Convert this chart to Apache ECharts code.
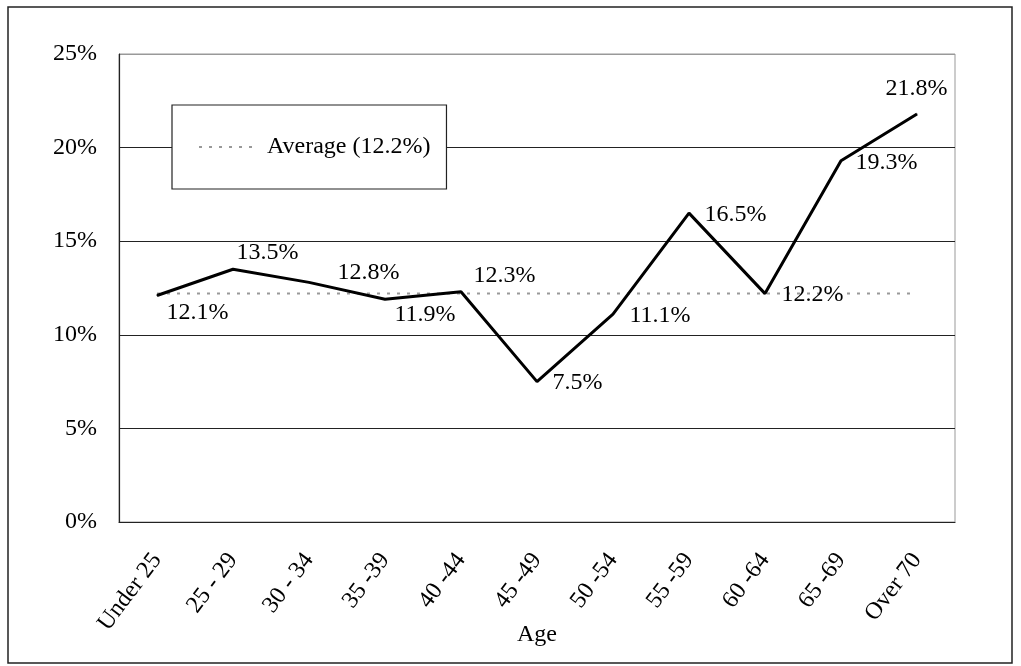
<!DOCTYPE html>
<html>
<head>
<meta charset="utf-8">
<script src="https://cdn.jsdelivr.net/npm/echarts@6/dist/echarts.min.js"></script>
<style>
  html, body { margin: 0; padding: 0; background: #fff; }
  #chart { width: 1021px; height: 666px; }
</style>
</head>
<body>
<div id="chart"></div>
<script>
// Age groups along the horizontal axis
const ageGroups = ['Under 25', '25 - 29', '30 - 34', '35 -39', '40 -44', '45 -49', '50 -54', '55 -59', '60 -64', '65 -69', 'Over 70'];
// Rate for each age group, in percent
const rates = [12.1, 13.5, 12.8, 11.9, 12.3, 7.5, 11.1, 16.5, 12.2, 19.3, 21.8];
// Overall average, in percent
const averageRate = 12.2;
// Y axis ticks, in percent
const yTicks = [0, 5, 10, 15, 20, 25];

const serif = '"Liberation Serif", "Times New Roman", serif';

// Where each value label sits relative to its point: [dx, dy, align]
const labelPlacement = [
  [10, 18, 'left'], [4, -16, 'left'], [29, -9, 'left'], [10, 16, 'left'],
  [13, -16, 'left'], [16, 2, 'left'], [17, 2, 'left'], [16, 2, 'left'],
  [17, 2, 'left'], [15, 2, 'left'], [0, -25, 'center']
];

const rateData = rates.map((v, i) => ({
  value: v,
  label: {
    position: [labelPlacement[i][0], labelPlacement[i][1]],
    align: labelPlacement[i][2],
    verticalAlign: 'middle'
  }
}));

const chart = echarts.init(document.getElementById('chart'), null, { renderer: 'canvas' });

chart.setOption({
  animation: false,
  backgroundColor: '#fff',
  textStyle: { fontFamily: serif, color: '#000' },
  graphic: [{
    type: 'rect',
    shape: { x: 8, y: 7, width: 1004, height: 656 },
    style: { fill: 'none', stroke: '#222', lineWidth: 1.5 },
    z: -1
  }],
  grid: {
    left: 119, right: 66, top: 54, bottom: 144,
    containLabel: false,
    outerBoundsMode: 'none',
    show: true, borderColor: '#999', borderWidth: 1, backgroundColor: 'transparent'
  },
  legend: {
    data: ['Average (12.2%)'],
    left: 172, top: 105,
    orient: 'horizontal',
    backgroundColor: '#fff',
    borderColor: '#222', borderWidth: 1.2,
    padding: [30, 16, 30, 26],
    itemWidth: 59, itemHeight: 14, itemGap: 10,
    itemStyle: { opacity: 0 },
    textStyle: { fontFamily: serif, fontSize: 24, color: '#000', padding: [0, 0, 0, 4] }
  },
  xAxis: {
    type: 'category',
    data: ageGroups,
    boundaryGap: true,
    name: 'Age',
    nameLocation: 'middle',
    nameGap: 101,
    nameMoveOverlap: false,
    nameTextStyle: { fontFamily: serif, fontSize: 24, color: '#000' },
    axisLine: { lineStyle: { color: '#222', width: 1.2 } },
    axisTick: { inside: true, length: 7, lineStyle: { color: '#222' } },
    axisLabel: {
      rotate: 53, margin: 34, interval: 0,
      fontFamily: serif, fontSize: 24, color: '#000'
    },
    splitLine: { show: false }
  },
  yAxis: {
    type: 'value',
    min: 0, max: 25, interval: 5,
    axisLine: { show: true, lineStyle: { color: '#222', width: 1.2 } },
    axisTick: { show: false },
    axisLabel: {
      margin: 22,
      fontFamily: serif, fontSize: 24, color: '#000',
      formatter: v => (yTicks.includes(v) ? v + '%' : '')
    },
    splitLine: {
      lineStyle: { color: ['#222', '#222', '#222', '#222', '#222', '#999'], width: 1.2 }
    }
  },
  series: [
    {
      name: 'Rate',
      type: 'line',
      data: rateData,
      symbol: 'circle',
      symbolSize: 1,
      showSymbol: true,
      itemStyle: { color: '#000' },
      lineStyle: { color: '#000', width: 3 },
      label: {
        show: true,
        fontFamily: serif, fontSize: 24, color: '#000',
        formatter: p => p.value.toFixed(1) + '%'
      },
      z: 3
    },
    {
      name: 'Average (12.2%)',
      type: 'line',
      data: ageGroups.map(() => averageRate),
      symbol: 'none',
      itemStyle: { color: '#999' },
      lineStyle: { color: '#999', width: 2, type: [3, 7] },
      z: 2
    }
  ]
});
</script>
</body>
</html>
